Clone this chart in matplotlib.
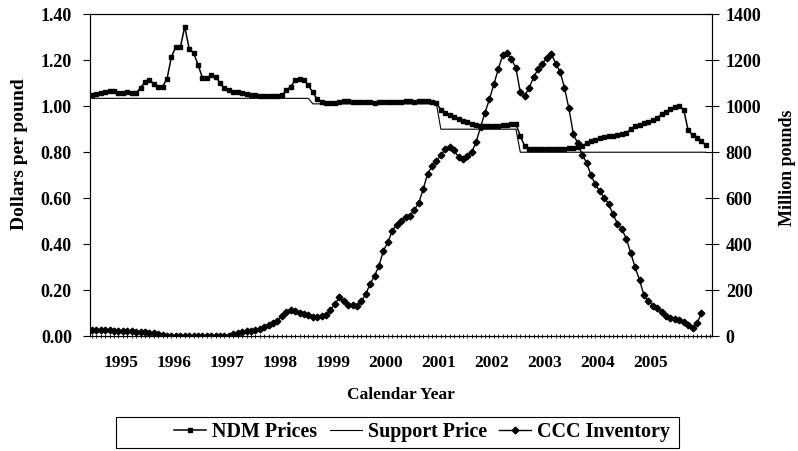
import matplotlib
matplotlib.use("Agg")
import matplotlib.pyplot as plt
from matplotlib.patches import Rectangle
from matplotlib.ticker import FormatStrFormatter

plt.rcParams['font.family'] = ['Liberation Serif', 'DejaVu Serif']
plt.rcParams['font.weight'] = 'bold'
plt.rcParams['axes.labelweight'] = 'bold'

# monthly values, first point = Jan 1995
ndm_prices = [
    1.05, 1.052, 1.055, 1.06, 1.065, 1.065, 1.056, 1.058, 1.062, 1.058,
    1.058, 1.08, 1.105, 1.112, 1.098, 1.082, 1.085, 1.12, 1.215, 1.258,
    1.255, 1.345, 1.25, 1.232, 1.18, 1.124, 1.122, 1.134, 1.128, 1.10,
    1.078, 1.068, 1.063, 1.06, 1.057, 1.053, 1.05, 1.047, 1.045, 1.044,
    1.043, 1.043, 1.044, 1.047, 1.068, 1.085, 1.112, 1.118, 1.114, 1.09,
    1.06, 1.03, 1.019, 1.015, 1.014, 1.015, 1.02, 1.024, 1.022, 1.02,
    1.018, 1.017, 1.016, 1.016, 1.015, 1.016, 1.017, 1.017, 1.018, 1.02,
    1.02, 1.022, 1.022, 1.02, 1.022, 1.024, 1.024, 1.02, 1.012, 0.985,
    0.97, 0.962, 0.952, 0.944, 0.936, 0.93, 0.924, 0.92, 0.916, 0.914,
    0.913, 0.914, 0.915, 0.917, 0.919, 0.921, 0.922, 0.87, 0.826, 0.815,
    0.813, 0.812, 0.812, 0.813, 0.813, 0.814, 0.815, 0.816, 0.818, 0.82,
    0.822, 0.828, 0.838, 0.848, 0.855, 0.86, 0.866, 0.87, 0.872, 0.874,
    0.877, 0.885, 0.9, 0.912, 0.918, 0.925, 0.93, 0.94, 0.95, 0.965,
    0.975, 0.987, 0.995, 1.0, 0.985, 0.895, 0.875, 0.86, 0.85, 0.83,
]

# support price only changes at a few months
support_month = [0, 49, 50, 78, 79, 96, 97, 139]
support_price = [1.034, 1.034, 1.01, 1.01, 0.90, 0.90, 0.80, 0.80]

ccc_inventory = [
    29, 29, 28, 28, 27, 26, 25, 24, 23, 22,
    21, 20, 20, 17, 14, 10, 6, 3, 2, 2,
    1, 1, 1, 1, 1, 1, 1, 2, 2, 2,
    3, 4, 9, 14, 18, 23, 26, 28, 32, 40,
    48, 58, 69, 88, 105, 116, 112, 104, 98, 93,
    84, 86, 90, 92, 115, 140, 170, 152, 136, 138,
    134, 152, 185, 228, 264, 308, 373, 409, 459, 485,
    500, 520, 525, 550, 580, 640, 705, 740, 760, 788,
    812, 822, 808, 780, 770, 785, 800, 845, 910, 972,
    1030, 1095, 1160, 1222, 1232, 1205, 1165, 1060, 1045, 1080,
    1125, 1160, 1185, 1210, 1228, 1185, 1150, 1080, 990, 880,
    838, 790, 755, 700, 660, 630, 603, 576, 530, 490,
    465, 425, 362, 300, 245, 178, 155, 134, 122, 108,
    90, 79, 76, 72, 64, 52, 35, 57, 100,
]

years = ['1995', '1996', '1997', '1998', '1999', '2000',
         '2001', '2002', '2003', '2004', '2005']

fig = plt.figure(figsize=(7.98, 4.51), dpi=100)
ax = fig.add_axes([0.1128, 0.2539, 0.7794, 0.7150])

l1, = ax.plot(range(len(ndm_prices)), ndm_prices, color='black', lw=1.1,
              marker='s', ms=3.4, label='NDM Prices')
l2, = ax.plot(support_month, support_price, color='black', lw=0.8,
              label='Support Price')

ax2 = ax.twinx()
l3, = ax2.plot(range(len(ccc_inventory)), ccc_inventory, color='black', lw=1.0,
               marker='D', ms=3.4, label='CCC Inventory')

ax.set_xlim(-0.45, 140.4)
ax.set_ylim(0, 1.4)
ax2.set_ylim(0, 1400)

ax.set_yticks([0, 0.2, 0.4, 0.6, 0.8, 1.0, 1.2, 1.4])
ax.yaxis.set_major_formatter(FormatStrFormatter('%.2f'))
ax2.set_yticks(range(0, 1401, 200))

# year labels sit mid-year, small tick for every month
ax.set_xticks([6.5 + 12 * k for k in range(len(years))], years)
ax.set_xticks(range(0, 141), minor=True)
ax.tick_params(axis='x', which='major', length=0, pad=13, labelsize=12.5)
ax.tick_params(axis='x', which='minor', length=3, direction='inout', width=0.6)
ax.tick_params(axis='y', direction='out', length=5, pad=8, labelsize=13)
ax2.tick_params(axis='y', direction='inout', length=10, pad=5, labelsize=13)

for a in (ax, ax2):
    for s in a.spines.values():
        s.set_linewidth(0.8)

ax.set_xlabel('Calendar Year', fontsize=12.5, fontweight='bold', labelpad=12)
fig.text(20 / 798, 1 - 154 / 451, 'Dollars per pound', rotation=90,
         ha='center', va='center', fontsize=14)
fig.text(788 / 798, 1 - 168 / 451, 'Million pounds', rotation=90,
         ha='center', va='center', fontsize=13)

fig.legend([l1, l2, l3], ['NDM Prices', 'Support Price', 'CCC Inventory'],
           loc='center', bbox_to_anchor=(422 / 798, 1 - 432 / 451), ncol=3,
           frameon=False, fontsize=14.4, handlelength=1.6, handletextpad=0.3,
           columnspacing=0.6)
fig.patches.append(Rectangle((116 / 798, 1 - 448 / 451), 563 / 798, 31 / 451,
                             transform=fig.transFigure, fill=False,
                             edgecolor='black', lw=0.8))

fig.savefig('out.png', dpi=100)
